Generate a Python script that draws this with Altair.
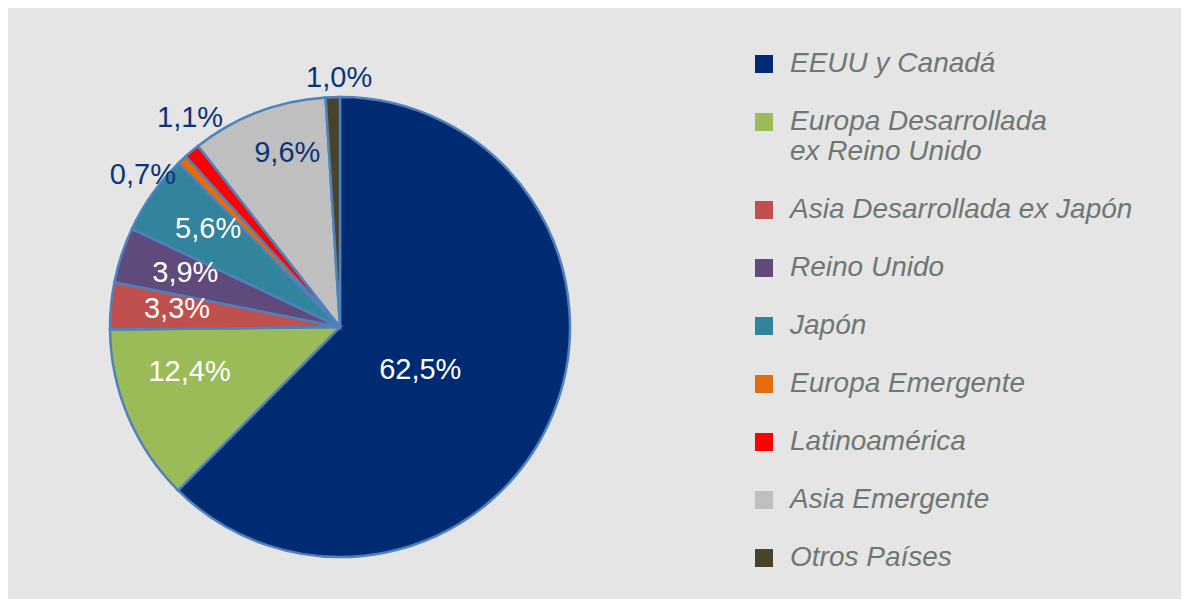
import altair as alt
import pandas as pd

regions = [
    "EEUU y Canadá",
    "Europa Desarrollada|ex Reino Unido",
    "Asia Desarrollada ex Japón",
    "Reino Unido",
    "Japón",
    "Europa Emergente",
    "Latinoamérica",
    "Asia Emergente",
    "Otros Países",
]
shares = [62.5, 12.4, 3.3, 3.9, 5.6, 0.7, 1.1, 9.6, 1.0]
labels = ["62,5%", "12,4%", "3,3%", "3,9%", "5,6%", "0,7%", "1,1%", "9,6%", "1,0%"]
palette = ["#002b72", "#9bbb59", "#c0504d", "#604a7b", "#31849b",
           "#e46c0a", "#ff0000", "#bfbfbf", "#494429"]

df = pd.DataFrame({
    "region": regions,
    "share": shares,
    "label": labels,
    "idx": list(range(len(regions))),
})

CX, CY, R = 332, 319, 230

base = alt.Chart(df)

arcs = base.mark_arc(radius=R, stroke="#4f81bd", strokeWidth=2.5).encode(
    theta=alt.Theta("share:Q", stack=True),
    order=alt.Order("idx:Q"),
    color=alt.Color(
        "region:N",
        scale=alt.Scale(domain=regions, range=palette),
        legend=alt.Legend(
            orient="none", legendX=742, legendY=42, title=None,
            symbolType="square", symbolSize=324, symbolStrokeWidth=0,
            labelFont="Liberation Sans", labelFontSize=28, labelFontStyle="italic",
            labelColor="#6f7773", labelOffset=12, rowPadding=30, padding=0,
            labelLimit=600, labelExpr="split(datum.label, '|')",
        ),
    ),
    x=alt.value(CX),
    y=alt.value(CY),
)

# label placement in the style of a spreadsheet "best fit": big slices inside,
# tiny slices just outside, with small angular nudges to keep them apart
texts = base.transform_window(
    cum="sum(share)", sort=[alt.SortField("idx")], frame=[None, 0]
).transform_joinaggregate(
    total="sum(share)"
).transform_calculate(
    mid="(datum.cum - datum.share / 2) / datum.total * 2 * PI",
).transform_calculate(
    ang="datum.mid + (datum.share > 50 ? 0.10 : datum.share > 10 ? 0.11 : "
        "datum.share > 9 ? 0.07 : datum.share < 0.8 ? -0.157 : "
        "datum.share > 1.05 && datum.share < 2 ? 0.077 : datum.share < 2 ? 0.028 : 0.02)",
    r="datum.share > 50 ? 91 : datum.share > 10 ? 157 : datum.share > 9 ? 182 : "
      "datum.share > 1.05 && datum.share < 2 ? 257 : datum.share < 2 ? 249 : 164",
).mark_text(font="Liberation Sans", fontSize=29).encode(
    theta=alt.Theta("ang:Q", scale=None),
    radius=alt.Radius("r:Q", scale=None),
    text="label:N",
    color=alt.condition("datum.share < 2 || datum.share > 9 && datum.share < 10",
                        alt.value("#0b3478"), alt.value("white")),
    x=alt.value(CX),
    y=alt.value(CY),
)

chart = alt.layer(arcs, texts).properties(
    width=1173, height=591, background="#e5e5e5", padding=0,
    autosize=alt.AutoSizeParams(type="none"),
).configure_view(stroke=None)

chart.save("out.html", embed_options={"renderer": "svg", "actions": False})
